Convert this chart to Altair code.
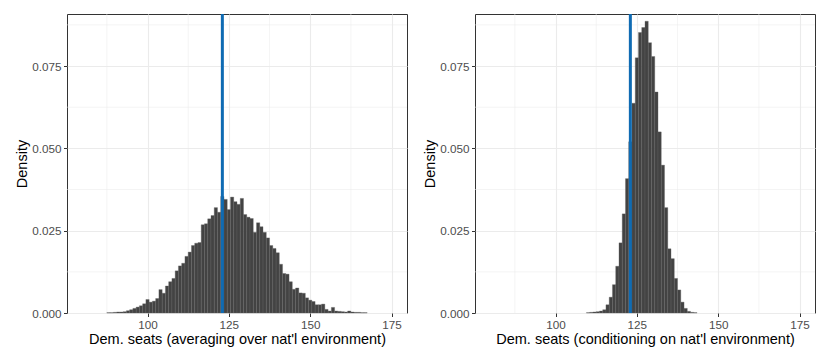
import altair as alt
import pandas as pd

# ---- data ----
seats_left = list(range(88, 168))
dens_left = [
    0.0001, 0.0001, 0.0002, 0.0003, 0.0003, 0.0004, 0.0007, 0.0010, 0.0014, 0.0018,
    0.0022, 0.0028, 0.0041, 0.0033, 0.0036, 0.0044, 0.0071, 0.0060, 0.0082, 0.0095,
    0.0105, 0.0128, 0.0143, 0.0151, 0.0172, 0.0185, 0.0205, 0.0212, 0.0214, 0.0268,
    0.0271, 0.0286, 0.0296, 0.0320, 0.0306, 0.0354, 0.0345, 0.0314, 0.0352, 0.0338,
    0.0330, 0.0348, 0.0299, 0.0291, 0.0287, 0.0245, 0.0274, 0.0262, 0.0245, 0.0228,
    0.0205, 0.0196, 0.0183, 0.0148, 0.0120, 0.0118, 0.0095, 0.0072, 0.0076, 0.0061,
    0.0060, 0.0046, 0.0039, 0.0035, 0.0025, 0.0025, 0.0027, 0.0011, 0.0006, 0.0017,
    0.0006, 0.0005, 0.0004, 0.0003, 0.0006, 0.0003, 0.0002, 0.0002, 0.0001, 0.0001,
]
seats_right = list(range(110, 144))
dens_right = [
    0.0001, 0.0002, 0.0003, 0.0004, 0.0006, 0.0010, 0.0025, 0.0048, 0.0086, 0.0142,
    0.0213, 0.0301, 0.0408, 0.0520, 0.0637, 0.0775, 0.0852, 0.0867, 0.0886, 0.0821,
    0.0779, 0.0671, 0.0550, 0.0449, 0.0320, 0.0195, 0.0165, 0.0105, 0.0070, 0.0033,
    0.0014, 0.0005, 0.0002, 0.0001,
]
vline_seat = [123]
x_major = [100, 125, 150, 175]
x_minor = [87.5, 112.5, 137.5, 162.5]
y_major = [0.0, 0.025, 0.05, 0.075]
y_minor = [0.0125, 0.0375, 0.0625, 0.0875]
x_title_left = "Dem. seats (averaging over nat'l environment)"
x_title_right = "Dem. seats (conditioning on nat'l environment)"

assert len(seats_left) == len(dens_left)
assert len(seats_right) == len(dens_right)

X_DOMAIN = [75.25, 179.75]
Y_DOMAIN = [0, 0.0908]
GRID = "#EBEBEB"


def panel(seats, dens, xtitle):
    df = pd.DataFrame({"seat": seats, "density": dens})
    xs = alt.Scale(domain=X_DOMAIN, nice=False, zero=False)
    ys = alt.Scale(domain=Y_DOMAIN, nice=False, zero=False)

    xminor = alt.Chart(pd.DataFrame({"v": x_minor})).mark_rule(
        color=GRID, strokeWidth=0.55
    ).encode(x=alt.X("v:Q", scale=xs))
    yminor = alt.Chart(pd.DataFrame({"v": y_minor})).mark_rule(
        color=GRID, strokeWidth=0.55
    ).encode(y=alt.Y("v:Q", scale=ys))

    bars = alt.Chart(df).transform_calculate(
        lo="datum.seat - 0.5", hi="datum.seat + 0.5"
    ).mark_rect(fill="#434343", stroke="#626262", strokeWidth=0.35).encode(
        x=alt.X(
            "lo:Q",
            scale=xs,
            axis=alt.Axis(values=x_major, title=xtitle, format="d"),
        ),
        x2="hi:Q",
        y=alt.Y(
            "density:Q",
            scale=ys,
            axis=alt.Axis(values=y_major, title="Density", format=".3f"),
        ),
        y2=alt.datum(0),
    )

    vline = alt.Chart(pd.DataFrame({"v": vline_seat})).mark_rule(
        color="#0F6BB3", strokeWidth=3
    ).encode(x=alt.X("v:Q", scale=xs))

    return alt.layer(xminor, yminor, bars, vline).properties(width=340, height=299)


left = panel(seats_left, dens_left, x_title_left)
right = panel(seats_right, dens_right, x_title_right)

chart = alt.hconcat(left, right, spacing=14).properties(
    padding={"left": 6, "top": 4, "right": 4, "bottom": 2},
    background="white",
).configure_view(
    stroke="#333333", strokeWidth=1
).configure_axis(
    domain=False,
    grid=True,
    gridColor=GRID,
    gridWidth=1.1,
    tickColor="#333333",
    tickSize=3.5,
    tickWidth=1,
    labelColor="#4D4D4D",
    labelFont="Liberation Sans",
    labelFontSize=11.7,
    labelPadding=2.5,
    titleFont="Liberation Sans",
    titleFontSize=14.5,
    titleFontWeight="normal",
    titleColor="#000000",
    titlePadding=2,
)

chart.save("out.html", embed_options={"renderer": "svg", "actions": False})
